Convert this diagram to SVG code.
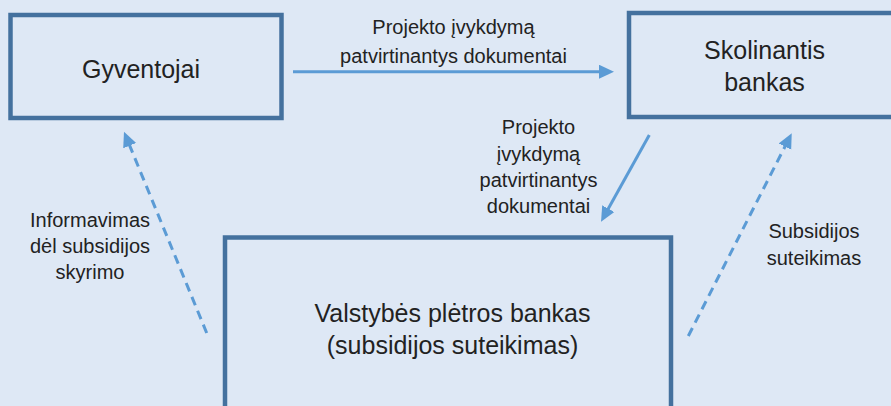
<svg xmlns="http://www.w3.org/2000/svg" width="891" height="406" viewBox="0 0 891 406">
<style>
.box{fill:#dee8f5;stroke:#44719e;stroke-width:4.5}
.big{font-family:"Liberation Sans",Arial,sans-serif;font-size:25px;fill:#222;text-anchor:middle}
.sm{font-family:"Liberation Sans",Arial,sans-serif;font-size:20px;fill:#222;text-anchor:middle}
.conn{stroke:#5b9bd5;stroke-width:3;fill:none}
.dash{stroke-dasharray:9 6}
</style>
<defs>
<marker id="ah" markerUnits="userSpaceOnUse" markerWidth="16" markerHeight="15" refX="5" refY="7" orient="auto">
<path d="M0,0 L15,7 L0,14 z" fill="#5b9bd5"/>
</marker>
</defs>
<rect width="891" height="406" fill="#dee8f5"/>
<g id="gyventojai">
<rect class="box" x="10.5" y="15" width="271" height="103"/>
<text class="big" x="141" y="78">Gyventojai</text>
</g>
<g id="skolinantis">
<rect class="box" x="629" y="13" width="290" height="104"/>
<text class="big" x="764.5" y="59">Skolinantis</text>
<text class="big" x="764.5" y="91">bankas</text>
</g>
<g id="vpb">
<rect class="box" x="225" y="237.5" width="446" height="200"/>
<text class="big" x="452.5" y="322">Valstybės plėtros bankas</text>
<text class="big" x="452.5" y="354">(subsidijos suteikimas)</text>
</g>
<g id="connectors">
<line class="conn" x1="293" y1="71.7" x2="604" y2="71.7" marker-end="url(#ah)"/>
<line class="conn" x1="649.3" y1="135" x2="605.9" y2="213" marker-end="url(#ah)"/>
<line class="conn dash" x1="206.7" y1="333" x2="127.8" y2="141" marker-end="url(#ah)"/>
<line class="conn dash" x1="688.3" y1="336" x2="787.2" y2="142.2" marker-end="url(#ah)"/>
<text class="sm" x="453.5" y="34">Projekto įvykdymą</text>
<text class="sm" x="453.5" y="63">patvirtinantys dokumentai</text>
<text class="sm" x="538.5" y="134">Projekto</text>
<text class="sm" x="538.5" y="161">įvykdymą</text>
<text class="sm" x="538.5" y="187">patvirtinantys</text>
<text class="sm" x="538.5" y="213">dokumentai</text>
<text class="sm" x="90" y="227">Informavimas</text>
<text class="sm" x="90" y="253">dėl subsidijos</text>
<text class="sm" x="90" y="279">skyrimo</text>
<text class="sm" x="814" y="238">Subsidijos</text>
<text class="sm" x="814" y="265">suteikimas</text>
</g>
</svg>
